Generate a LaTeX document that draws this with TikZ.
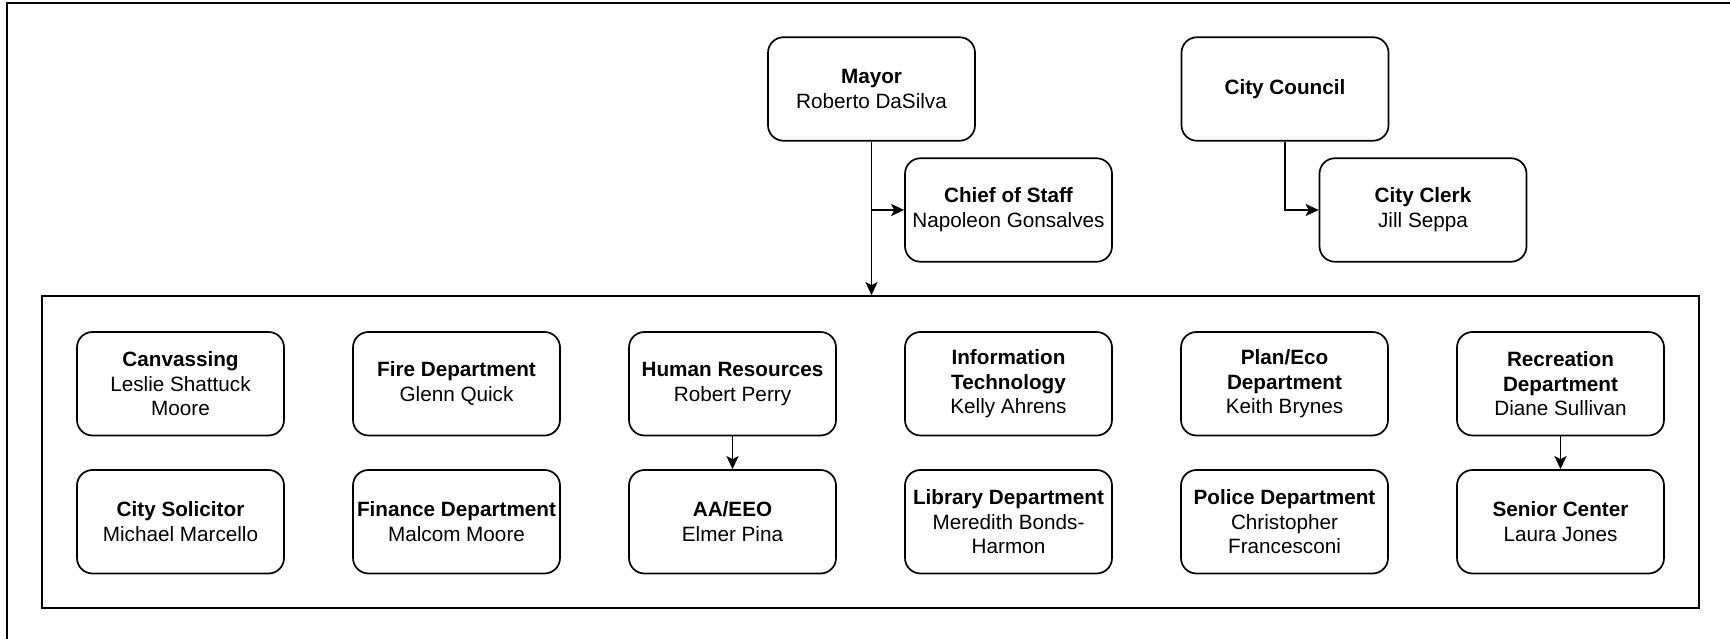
\documentclass[tikz,border=0pt]{standalone}
\usepackage{fontspec}
\setmainfont{Liberation Sans}
\usetikzlibrary{arrows.meta}
\begin{document}
\begin{tikzpicture}[x=1pt,y=-1pt,
  box/.style={draw=black, line width=1.7pt, rounded corners=15.5pt, minimum width=207pt, minimum height=103.5pt, inner sep=0pt, align=center, font=\fontsize{20.7}{24.8}\selectfont},
  container/.style={draw=black, line width=1.7pt, minimum width=1657pt, minimum height=312pt, inner sep=0pt},
  arr/.style={line width=1.7pt, -{Stealth[length=13pt,width=12pt,inset=3pt]}}]
\useasboundingbox (0,0) rectangle (1730,639);
\fill[white] (0,0) rectangle (1730,639);
% outer frame (cropped)
\draw[line width=2.2pt, black] (1731,3) -- (7,3) -- (7,640);
% top nodes
\node[box] (mayor) at (871.5,89) {\textbf{Mayor}\\Roberto DaSilva};
\node[box] (council) at (1285,89) {\textbf{City Council}};
\node[box] (chief) at (1008.5,210) {\textbf{Chief of Staff}\\Napoleon Gonsalves};
\node[box] (clerk) at (1423,210) {\textbf{City Clerk}\\Jill Seppa};
% container
\node[container] (cont) at (870.5,452) {};
% departments row 1
\node[box] (canv) at (180.5,383.75) {\textbf{Canvassing}\\Leslie Shattuck\\Moore};
\node[box] (fire) at (456.5,383.75) {\textbf{Fire Department}\\Glenn Quick};
\node[box] (hr) at (732.5,383.75) {\textbf{Human Resources}\\Robert Perry};
\node[box] (it) at (1008.5,383.75) {\textbf{Information}\\\textbf{Technology}\\Kelly Ahrens};
\node[box] (plan) at (1284.5,383.75) {\textbf{Plan/Eco}\\\textbf{Department}\\Keith Brynes};
\node[box] (rec) at (1560.5,383.75) {\textbf{Recreation}\\\textbf{Department}\\Diane Sullivan};
% departments row 2
\node[box] (sol) at (180.5,521.75) {\textbf{City Solicitor}\\Michael Marcello};
\node[box] (fin) at (456.5,521.75) {\textbf{Finance Department}\\Malcom Moore};
\node[box] (aa) at (732.5,521.75) {\textbf{AA/EEO}\\Elmer Pina};
\node[box] (lib) at (1008.5,521.75) {\textbf{Library Department}\\Meredith Bonds-\\Harmon};
\node[box] (pol) at (1284.5,521.75) {\textbf{Police Department}\\Christopher\\Francesconi};
\node[box] (sen) at (1560.5,521.75) {\textbf{Senior Center}\\Laura Jones};
% connectors
\draw[arr] (mayor.south) -- (mayor.south |- cont.north);
\draw[arr] (mayor.south |- chief.west) -- (chief.west);
\draw[arr] (council.south) |- (clerk.west);
\draw[arr] (hr.south) -- (aa.north);
\draw[arr] (rec.south) -- (sen.north);
\end{tikzpicture}
\end{document}
